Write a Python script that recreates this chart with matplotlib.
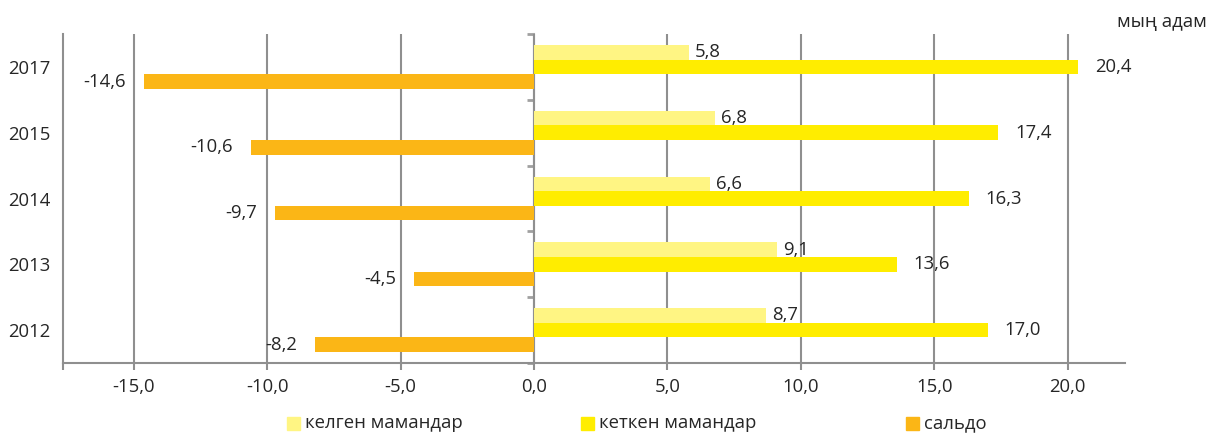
import matplotlib
matplotlib.use("Agg")
import matplotlib.pyplot as plt
from matplotlib.ticker import FuncFormatter, FixedLocator
from matplotlib.patches import Rectangle
import numpy as np

plt.rcParams['font.family'] = ['Open Sans', 'DejaVu Sans']

years = ['2012', '2013', '2014', '2015', '2017']
arrived = [8.7, 9.1, 6.6, 6.8, 5.8]       # келген мамандар
left_ = [17.0, 13.6, 16.3, 17.4, 20.4]    # кеткен мамандар
balance = [-8.2, -4.5, -9.7, -10.6, -14.6]  # сальдо
series_names = ['келген мамандар', 'кеткен мамандар', 'сальдо']
colors = ['#FFF583', '#FFED00', '#FBB616']
unit_label = 'мың адам'

xmin, xmax = -17.65, 22.15
fs = 13.3
txt_col = '#262626'
grid_col = '#8f8f8f'

fig = plt.figure(figsize=(12.21, 4.34), dpi=100)
ax = fig.add_axes([63/1221, 1-363/434, (1125-63)/1221, (363-34)/434])

y = np.arange(len(years))
h = 0.222
def fmt(v):
    return f"{v:.1f}".replace('.', ',')

b1 = ax.barh(y + h, arrived, height=h, color=colors[0], zorder=3)
b2 = ax.barh(y, left_, height=h, color=colors[1], zorder=3)
b3 = ax.barh(y - h, balance, height=h, color=colors[2], zorder=3)

for bars, vals, off in ((b1, arrived, 4.3), (b2, left_, 12), (b3, balance, 13)):
    for r, v in zip(bars, vals):
        yc = r.get_y() + r.get_height()/2
        ax.annotate(fmt(v), (v, yc), xytext=(off if v > 0 else -off, 0),
                    textcoords='offset points', ha='left' if v > 0 else 'right',
                    va='center', fontsize=fs, color=txt_col, zorder=4)

ax.set_xlim(xmin, xmax)
ax.set_ylim(-0.5, len(years) - 0.5)

ax.xaxis.set_major_locator(FixedLocator(np.arange(-15, 21, 5)))
ax.xaxis.set_major_formatter(FuncFormatter(lambda v, p: fmt(v)))
ax.xaxis.set_minor_locator(FixedLocator([xmin]))
ax.tick_params(axis='x', which='both', direction='out', length=5, width=1.5,
               color=grid_col, labelsize=fs, labelcolor=txt_col, pad=6)
ax.grid(axis='x', color=grid_col, lw=1.5, zorder=1)

ax.set_yticks(y)
ax.set_yticklabels(years)
ax.tick_params(axis='y', length=0, labelsize=fs, labelcolor=txt_col, pad=9)

for s in ('top', 'right'):
    ax.spines[s].set_visible(False)
for s in ('left', 'bottom'):
    ax.spines[s].set_color(grid_col)
    ax.spines[s].set_linewidth(1.5)

frac0 = (0 - xmin) / (xmax - xmin)
sec = ax.secondary_yaxis(frac0)
sec.set_yticks(np.arange(len(years) + 1) - 0.5)
sec.set_yticklabels([])
sec.tick_params(direction='out', length=5, width=2, color='#a0a0a0')
sec.spines['left'].set_color('#a6a6a6')
sec.spines['left'].set_linewidth(1.5)
sec.spines['left'].set_zorder(5)

fig.text(1207/1221, 1-22/434, unit_label, ha='right', va='center',
         fontsize=fs, color=txt_col)

leg_x = [287, 581, 906]
leg_y = 423
for lx, c, name in zip(leg_x, colors, series_names):
    fig.patches.append(Rectangle((lx/1221, 1-(leg_y+6.5)/434), 13/1221, 13/434,
                                 transform=fig.transFigure, color=c))
    fig.text((lx + 18)/1221, 1-leg_y/434, name, ha='left', va='center',
             fontsize=fs, color=txt_col)

fig.savefig('out.png', dpi=100)
